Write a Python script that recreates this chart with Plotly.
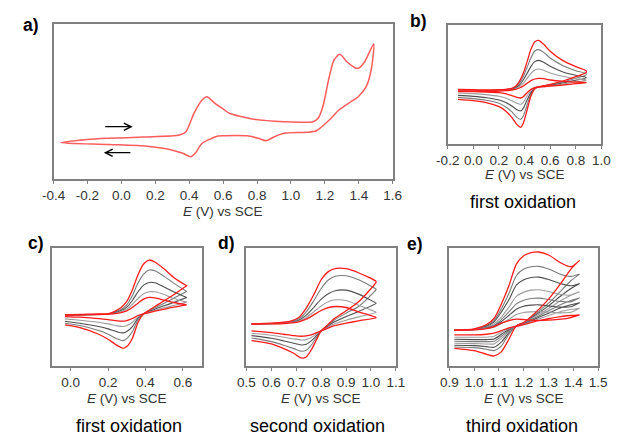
import plotly.graph_objects as go

# ---------------- DATA ----------------
# panel a: full CV (potential V vs SCE, current arb. units)
a_fwd_E = [-0.356, -0.2, -0.075, 0.13, 0.342, 0.381, 0.428, 0.476, 0.504, 0.552, 0.609, 0.637, 0.770, 0.960,
           1.131, 1.160, 1.188, 1.226, 1.254, 1.288, 1.330, 1.378, 1.397, 1.435, 1.488]
a_fwd_I = [35.3, 38.5, 39.7, 41.0, 43.0, 46.3, 64.7, 78.0, 81.3, 74.7, 68.0, 64.7, 59.0, 56.3,
           56.3, 59.7, 71.3, 101.3, 118.0, 123.7, 116.3, 110.3, 109.7, 116.3, 134.0]
a_rev_E = [1.473, 1.444, 1.397, 1.340, 1.283, 1.226, 1.150, 1.093, 0.960, 0.903, 0.855, 0.808, 0.751, 0.609,
           0.570, 0.476, 0.438, 0.409, 0.362, 0.285, 0.153, -0.075, -0.356]
a_rev_I = [108.0, 91.3, 81.3, 74.7, 68.0, 58.0, 47.3, 45.7, 44.7, 41.3, 37.3, 39.7, 42.0, 42.3,
           42.0, 34.7, 25.3, 21.3, 24.7, 28.5, 31.8, 33.5, 35.3]

# panel b: first oxidation, scan-rate series
b_fwd_E = [-0.12, 0.0, 0.1, 0.2, 0.25, 0.3, 0.33, 0.36, 0.39, 0.42, 0.45, 0.48, 0.51, 0.55, 0.6, 0.7, 0.8, 0.88]
b_rev_E = [0.88, 0.8, 0.7, 0.6, 0.55, 0.51, 0.48, 0.45, 0.42, 0.39, 0.37, 0.34, 0.3, 0.25, 0.2, 0.1, 0.0, -0.12]
b_R1_f = [162, 161, 160, 161, 162, 165, 171, 186, 210, 245, 282, 305, 309, 297, 276, 248, 230, 218]
b_R1_r = [212, 200, 187, 177, 173, 169, 164, 142, 100, 60, 48, 57, 78, 98, 110, 122, 128, 132]
b_G1_f = [160, 160, 159, 160, 161, 164, 169, 181, 200, 228, 257, 277, 281, 273, 256, 233, 218, 209]
b_G1_r = [205, 195, 184, 176, 172, 169, 165, 148, 115, 82, 72, 78, 95, 110, 120, 129, 134, 138]
b_G2_f = [159, 159, 158, 159, 160, 163, 167, 175, 190, 210, 231, 245, 249, 243, 231, 214, 204, 198]
b_G2_r = [196, 189, 181, 174, 171, 169, 166, 153, 130, 105, 97, 101, 112, 123, 130, 137, 141, 144]
b_G3_f = [158, 158, 158, 158, 159, 161, 164, 170, 180, 195, 210, 220, 223, 219, 211, 201, 194, 190]
b_G3_r = [189, 184, 178, 173, 170, 169, 167, 158, 142, 123, 117, 120, 128, 136, 141, 146, 149, 151]
b_R2_f = [157, 157, 157, 157, 158, 160, 162, 166, 172, 180, 188, 193, 195, 194, 190, 186, 184, 183]
b_R2_r = [182, 179, 175, 172, 170, 169, 167, 162, 152, 140, 136, 138, 143, 149, 152, 154, 155, 155]

# panel c: first oxidation
c_fwd_E = [-0.03, 0.05, 0.15, 0.2, 0.24, 0.27, 0.3, 0.33, 0.36, 0.39, 0.42, 0.45, 0.5, 0.55, 0.62]
c_rev_E = [0.62, 0.55, 0.5, 0.45, 0.42, 0.39, 0.36, 0.33, 0.3, 0.28, 0.25, 0.2, 0.15, 0.05, -0.03]
c_R1_f = [153, 154, 156, 156, 165, 175, 193, 228, 273, 305, 317, 311, 290, 265, 240]
c_R1_r = [240, 213, 195, 178, 167, 156, 130, 83, 58, 53, 61, 80, 95, 115, 123]
c_G1_f = [152, 153, 154, 155, 162, 170, 183, 211, 248, 275, 287, 285, 268, 248, 223]
c_G1_r = [223, 203, 188, 174, 165, 156, 138, 103, 82, 76, 81, 95, 106, 121, 128]
c_G2_f = [152, 153, 154, 155, 160, 166, 176, 196, 222, 242, 250, 249, 236, 222, 205]
c_G2_r = [205, 190, 180, 170, 163, 156, 143, 118, 103, 99, 102, 111, 118, 128, 134]
c_G3_f = [152, 153, 154, 155, 158, 163, 170, 184, 202, 216, 222, 222, 214, 202, 191]
c_G3_r = [191, 181, 174, 166, 161, 156, 147, 131, 121, 118, 120, 126, 131, 137, 141]
c_R2_f = [152, 153, 154, 155, 157, 160, 165, 175, 188, 200, 205, 204, 197, 190, 183]
c_R2_r = [183, 176, 170, 164, 160, 156, 151, 142, 136, 134, 135, 139, 142, 146, 148]

# panel d: second oxidation
d_fwd_E = [0.52, 0.6, 0.65, 0.68, 0.71, 0.74, 0.77, 0.8, 0.83, 0.86, 0.9, 0.95, 1.02]
d_rev_E = [1.02, 0.95, 0.9, 0.85, 0.82, 0.8, 0.78, 0.76, 0.74, 0.72, 0.69, 0.65, 0.6, 0.52]
d_R1_f = [126, 128, 131, 135, 145, 173, 213, 258, 283, 292, 291, 279, 253]
d_R1_r = [250, 192, 165, 140, 119, 105, 77, 48, 27, 24, 38, 52, 66, 76]
d_G1_f = [125, 127, 130, 133, 141, 162, 195, 232, 258, 269, 270, 258, 230]
d_G1_r = [228, 178, 158, 136, 117, 105, 84, 62, 47, 44, 52, 62, 73, 84]
d_G2_f = [125, 127, 129, 131, 137, 152, 175, 200, 217, 226, 227, 215, 188]
d_G2_r = [187, 163, 148, 131, 115, 105, 90, 75, 65, 63, 68, 75, 83, 91]
d_G3_f = [125, 126, 128, 130, 134, 145, 162, 180, 193, 198, 196, 182, 161]
d_G3_r = [160, 147, 137, 125, 113, 105, 95, 85, 79, 78, 81, 86, 92, 98]
d_R2_f = [125, 126, 127, 129, 132, 140, 153, 166, 175, 178, 175, 162, 145]
d_R2_r = [144, 135, 128, 120, 111, 105, 99, 93, 90, 89, 91, 95, 100, 105]

# panel e: third oxidation
e_fwd_E = [0.92, 1.0, 1.05, 1.08, 1.11, 1.14, 1.17, 1.2, 1.23, 1.26, 1.3, 1.35, 1.39, 1.425]
e_rev_E = [1.425, 1.39, 1.35, 1.3, 1.25, 1.2, 1.17, 1.14, 1.11, 1.08, 1.05, 1.0, 0.92]
e_R1_f = [107, 111, 124, 142, 186, 240, 305, 330, 339, 341, 332, 308, 297, 316]
e_R1_r = [316, 290, 248, 200, 162, 130, 120, 80, 43, 30, 35, 46, 53]
e_G1_f = [107, 110, 121, 136, 172, 217, 270, 290, 297, 298, 290, 274, 268, 275]
e_G1_r = [275, 255, 225, 188, 158, 130, 120, 95, 60, 46, 50, 55, 57]
e_G2_f = [107, 110, 119, 132, 162, 198, 242, 258, 265, 266, 259, 246, 240, 247]
e_G2_r = [247, 232, 210, 180, 154, 129, 120, 100, 72, 56, 58, 61, 62]
e_G3_f = [107, 109, 116, 126, 147, 176, 208, 221, 227, 228, 223, 214, 212, 222]
e_G3_r = [222, 212, 196, 172, 150, 128, 119, 104, 82, 66, 66, 67, 68]
e_G4_f = [107, 109, 115, 122, 139, 162, 186, 197, 202, 203, 199, 193, 192, 204]
e_G4_r = [204, 196, 184, 165, 146, 127, 119, 107, 89, 74, 73, 73, 74]
e_G5_f = [107, 109, 113, 119, 133, 151, 170, 179, 182, 183, 180, 176, 177, 189]
e_G5_r = [189, 183, 174, 158, 142, 126, 119, 110, 95, 81, 79, 79, 80]
e_G6_f = [107, 108, 112, 116, 127, 140, 154, 160, 162, 163, 161, 159, 161, 173]
e_G6_r = [173, 169, 163, 151, 138, 125, 119, 112, 101, 89, 86, 86, 86]
e_R2_f = [107, 108, 112, 118, 128, 136, 140, 139, 137, 136, 137, 140, 145, 153]
e_R2_r = [153, 151, 148, 142, 134, 124, 119, 114, 106, 98, 95, 93, 93]

# tick labels
a_ticks = [-0.4, -0.2, 0.0, 0.2, 0.4, 0.6, 0.8, 1.0, 1.2, 1.4, 1.6]
b_ticks = [-0.2, 0.0, 0.2, 0.4, 0.6, 0.8, 1.0]
c_ticks = [0.0, 0.2, 0.4, 0.6]
d_ticks = [0.5, 0.6, 0.7, 0.8, 0.9, 1.0, 1.1]
e_ticks = [0.9, 1.0, 1.1, 1.2, 1.3, 1.4, 1.5]

panel_letters = ["a)", "b)", "c)", "d)", "e)"]
captions = ["first oxidation", "first oxidation", "second oxidation", "third oxidation"]
axis_title = "<i>E</i> (V) vs SCE"

# ---------------- FIGURE ----------------
W, H = 621, 435
RED = "#ff1a1a"
GRAYS = ["#7c7c7c", "#4e4e4e", "#9c9c9c"]
FONT = "Liberation Sans, Arial, sans-serif"

fig = go.Figure()


def add_cv(fE, fI, rE, rI, color, width, ax):
    fig.add_trace(go.Scatter(
        x=list(fE) + list(rE), y=list(fI) + list(rI), mode="lines",
        line=dict(color=color, width=width, shape="spline", smoothing=0.7),
        xaxis="x" + ax, yaxis="y" + ax, showlegend=False, hoverinfo="skip"))


# panel a
add_cv(a_fwd_E, a_fwd_I, a_rev_E, a_rev_I, "#ff5c5c", 1.5, "")

# panel b
add_cv(b_fwd_E, b_G1_f, b_rev_E, b_G1_r, GRAYS[0], 1.1, "2")
add_cv(b_fwd_E, b_G2_f, b_rev_E, b_G2_r, GRAYS[1], 1.1, "2")
add_cv(b_fwd_E, b_G3_f, b_rev_E, b_G3_r, GRAYS[2], 1.1, "2")
add_cv(b_fwd_E, b_R2_f, b_rev_E, b_R2_r, RED, 1.3, "2")
add_cv(b_fwd_E, b_R1_f, b_rev_E, b_R1_r, RED, 1.3, "2")

# panel c
add_cv(c_fwd_E, c_G1_f, c_rev_E, c_G1_r, GRAYS[0], 1.1, "3")
add_cv(c_fwd_E, c_G2_f, c_rev_E, c_G2_r, GRAYS[1], 1.1, "3")
add_cv(c_fwd_E, c_G3_f, c_rev_E, c_G3_r, GRAYS[2], 1.1, "3")
add_cv(c_fwd_E, c_R2_f, c_rev_E, c_R2_r, RED, 1.3, "3")
add_cv(c_fwd_E, c_R1_f, c_rev_E, c_R1_r, RED, 1.3, "3")

# panel d
add_cv(d_fwd_E, d_G1_f, d_rev_E, d_G1_r, GRAYS[0], 1.1, "4")
add_cv(d_fwd_E, d_G2_f, d_rev_E, d_G2_r, GRAYS[1], 1.1, "4")
add_cv(d_fwd_E, d_G3_f, d_rev_E, d_G3_r, GRAYS[2], 1.1, "4")
add_cv(d_fwd_E, d_R2_f, d_rev_E, d_R2_r, RED, 1.3, "4")
add_cv(d_fwd_E, d_R1_f, d_rev_E, d_R1_r, RED, 1.3, "4")

# panel e
e_grays = [(e_G1_f, e_G1_r), (e_G2_f, e_G2_r), (e_G3_f, e_G3_r),
           (e_G4_f, e_G4_r), (e_G5_f, e_G5_r), (e_G6_f, e_G6_r)]
for k, (f, r) in enumerate(e_grays):
    add_cv(e_fwd_E, f, e_rev_E, r, GRAYS[k % 3], 1.1, "5")
add_cv(e_fwd_E, e_R2_f, e_rev_E, e_R2_r, RED, 1.3, "5")
add_cv(e_fwd_E, e_R1_f, e_rev_E, e_R1_r, RED, 1.3, "5")


def px(x):
    return x / W


def py(y):
    return 1 - y / H


frame = dict(showline=True, mirror=True, linecolor="#808080", linewidth=1.5,
             showgrid=False, zeroline=False)


def xaxis(dom, rng, ticks, anchor):
    return dict(frame, domain=dom, range=rng, anchor=anchor,
                tickvals=ticks, ticktext=[f"{t:.1f}" for t in ticks],
                ticks="outside", ticklen=3, tickwidth=1, tickcolor="#808080",
                tickfont=dict(family=FONT, size=13.5, color="#333333"))


def yaxis(dom, rng, anchor):
    return dict(frame, domain=dom, range=rng, anchor=anchor,
                showticklabels=False, ticks="")


boxes = {
    "a": (43, 394, 24, 179),
    "b": (451, 610, 25, 144),
    "c": (41.3, 196.3, 248, 366),
    "d": (242.7, 397.3, 248, 366),
    "e": (452.7, 606.7, 248, 366),
}


def dom(b):
    x0, x1, y0, y1 = b
    return [px(x0), px(x1)], [py(y1), py(y0)]


xd, yd = dom(boxes["a"])
fig.update_layout(xaxis=xaxis(xd, [-0.4, 1.6], a_ticks, "y"),
                  yaxis=yaxis(yd, [-1, 154], "x"))
xd, yd = dom(boxes["b"])
fig.update_layout(xaxis2=xaxis(xd, [-0.2, 1.0], b_ticks, "y2"),
                  yaxis2=yaxis(yd, [-2, 355], "x2"))
xd, yd = dom(boxes["c"])
fig.update_layout(xaxis3=xaxis(xd, [-0.1, 0.7], c_ticks, "y3"),
                  yaxis3=yaxis(yd, [0, 353], "x3"))
xd, yd = dom(boxes["d"])
fig.update_layout(xaxis4=xaxis(xd, [0.5, 1.1], d_ticks, "y4"),
                  yaxis4=yaxis(yd, [0, 353], "x4"))
xd, yd = dom(boxes["e"])
fig.update_layout(xaxis5=xaxis(xd, [0.9, 1.5], e_ticks, "y5"),
                  yaxis5=yaxis(yd, [0, 353], "x5"))

ann = []
# panel letters
for txt, (x, y) in zip(panel_letters, [(20, 25), (420.5, 21.5), (24.5, 243), (221.5, 243), (417.5, 244)]):
    ann.append(dict(text=f"<b>{txt}</b>", x=px(x), y=py(y), xref="paper", yref="paper",
                    showarrow=False, xanchor="center", yanchor="middle",
                    font=dict(family=FONT, size=17.5, color="#000000")))
# axis titles
for x, y in [(218.5, 212), (530.5, 174), (118.8, 398), (320, 398), (529.7, 398)]:
    ann.append(dict(text=axis_title, x=px(x), y=py(y), xref="paper", yref="paper",
                    showarrow=False, xanchor="center", yanchor="middle",
                    font=dict(family=FONT, size=13.5, color="#333333")))
# captions
for txt, (x, y) in zip(captions, [(529, 202), (120.8, 426), (315.7, 426), (528.3, 426)]):
    ann.append(dict(text=txt, x=px(x), y=py(y), xref="paper", yref="paper",
                    showarrow=False, xanchor="center", yanchor="middle",
                    font=dict(family=FONT, size=18, color="#000000")))
# scan direction arrows in panel a
ann.append(dict(x=0.067, y=51.3, ax=-0.104, ay=51.3, xref="x", yref="y", axref="x", ayref="y",
                showarrow=True, arrowhead=5, arrowsize=1.2, arrowwidth=1.2, arrowcolor="#000000", text=""))
ann.append(dict(x=-0.104, y=25.3, ax=0.062, ay=25.3, xref="x", yref="y", axref="x", ayref="y",
                showarrow=True, arrowhead=5, arrowsize=1.2, arrowwidth=1.2, arrowcolor="#000000", text=""))

fig.update_layout(width=W, height=H, margin=dict(l=0, r=0, t=0, b=0),
                  paper_bgcolor="white", plot_bgcolor="white",
                  annotations=ann, hovermode=False)

fig.write_html("out.html", post_script="document.body.style.margin='0';")
